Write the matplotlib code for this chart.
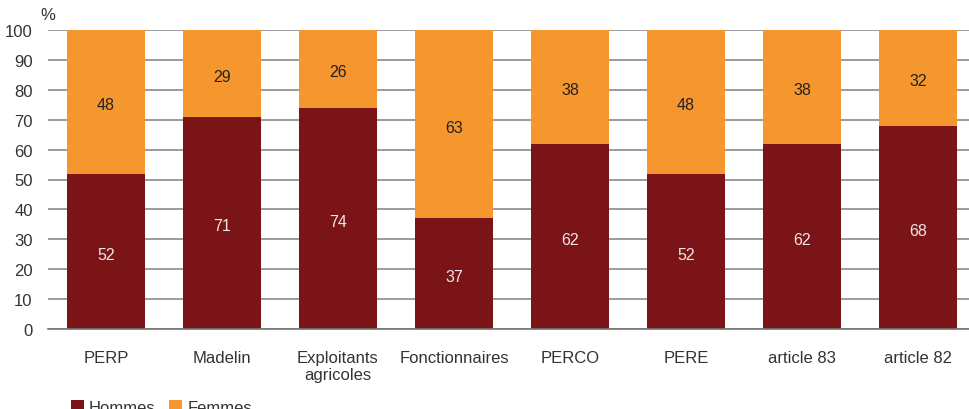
import matplotlib.pyplot as plt
import numpy as np

categories = ['PERP', 'Madelin', 'Exploitants\nagricoles', 'Fonctionnaires',
              'PERCO', 'PERE', 'article 83', 'article 82']
hommes = [52, 71, 74, 37, 62, 52, 62, 68]
femmes = [48, 29, 26, 63, 38, 48, 38, 32]

plt.rcParams['font.family'] = ['Liberation Sans', 'DejaVu Sans']

c_h = '#7b1416'
c_f = '#f5962f'
txt = '#333333'

fig = plt.figure(figsize=(9.69, 4.10), dpi=100)
ax = fig.add_axes([48/969, 80/410, 921/969, 299/410])

x = np.arange(len(categories))
w = 0.67
bh = ax.bar(x, hommes, w, color=c_h, label='Hommes', zorder=2)
bf = ax.bar(x, femmes, w, bottom=hommes, color=c_f, label='Femmes', zorder=2)

# values written in the middle of each segment
for i in range(len(x)):
    ax.text(x[i], hommes[i] / 2 - 1, str(hommes[i]), ha='center', va='center',
            color='#f0e6e6', fontsize=11.5)
    ax.text(x[i], hommes[i] + femmes[i] / 2 - 1, str(femmes[i]), ha='center',
            va='center', color='#222222', fontsize=11.5)

ax.set_xlim(-0.5, 7.44)
ax.set_ylim(0, 100)
ax.set_yticks(range(0, 101, 10))
ax.yaxis.grid(True, color='#8a8a8a', linewidth=1.2, zorder=0)
ax.set_axisbelow(True)
for s in ['top', 'right', 'left']:
    ax.spines[s].set_visible(False)
ax.spines['bottom'].set_color('#777777')
ax.spines['bottom'].set_linewidth(1.2)
ax.tick_params(length=0, labelsize=12, colors=txt)
ax.tick_params(axis='x', pad=15)
ax.tick_params(axis='y', pad=11)
ax.set_xticks(x)
ax.set_xticklabels(categories)

fig.text(40/969, 1 - 16/410, '%', fontsize=12, color=txt, ha='left', va='center')

fig.legend(handles=[bh, bf], loc='upper left', bbox_to_anchor=(64/969, 1 - 394/410),
           ncol=2, frameon=False, fontsize=12, handlelength=0.8, handleheight=0.8,
           handletextpad=0.3, columnspacing=0.8, labelcolor=txt, borderaxespad=0)

fig.savefig('out.png', dpi=100)
